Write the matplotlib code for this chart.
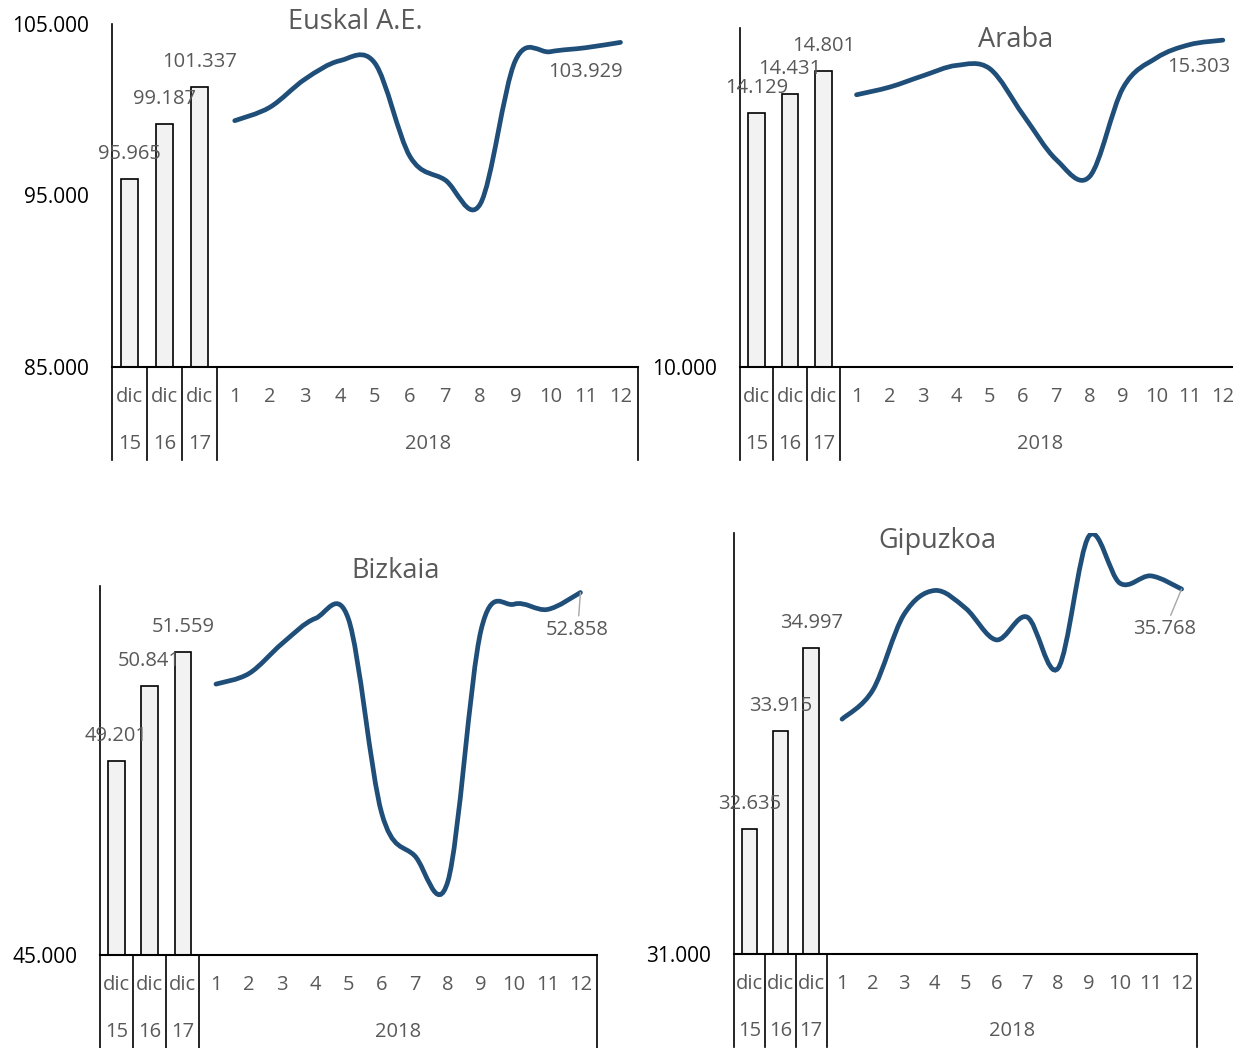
import matplotlib
matplotlib.use('Agg')
import matplotlib.pyplot as plt
import numpy as np
from matplotlib.path import Path
from matplotlib.patches import PathPatch

plt.rcParams['font.family'] = ['Open Sans', 'DejaVu Sans']

# datos
cats_top = ['dic', 'dic', 'dic'] + [str(m) for m in range(1, 13)]
cats_bottom = ['15', '16', '17']
year_label = '2018'

titles = ['Euskal A.E.', 'Araba', 'Bizkaia', 'Gipuzkoa']

euskal_bars = [95965, 99187, 101337]
euskal_line = [99362, 100143, 101780, 102861, 102706, 97263, 95904, 94500, 102850, 103385, 103615, 103929]

araba_bars = [14129, 14431, 14801]
araba_line = [14417, 14542, 14726, 14893, 14840, 14092, 13362, 13091, 14526, 15013, 15230, 15303]

bizkaia_bars = [49201, 50841, 51559]
bizkaia_line = [50873, 51104, 51755, 52297, 52280, 48080, 47150, 46600, 52043, 52606, 52491, 52858]

gipuzkoa_bars = [32635, 33915, 34997]
gipuzkoa_line = [34068, 34450, 35431, 35749, 35518, 35104, 35401, 34734, 36460, 35845, 35940, 35768]

W, H = 1233, 1048
fig = plt.figure(figsize=(W / 100, H / 100), dpi=100)

GRAY = '#595959'
BLUE = '#1F4E79'


def fmt(v):
    return f"{v:,}".replace(',', '.')


def smooth_path(x, y):
    # curva suavizada tipo Excel (Bezier por los puntos)
    pts = np.column_stack([x, y]).astype(float)
    n = len(pts)
    verts = [pts[0]]
    codes = [Path.MOVETO]
    for i in range(n - 1):
        p0 = pts[i - 1] if i > 0 else pts[i]
        p1 = pts[i]
        p2 = pts[i + 1]
        p3 = pts[i + 2] if i + 2 < n else pts[i + 1]
        verts += [p1 + (p2 - p0) / 6, p2 - (p3 - p1) / 6, p2]
        codes += [Path.CURVE4] * 3
    return Path(verts, codes)


def panel(box, title, title_xy, bars, line, ylim, yticks, end_off, leader):
    L, R, T, B = box
    h_px = B - T
    ax = fig.add_axes([L / W, 1 - B / H, (R - L) / W, h_px / H])
    xb = np.arange(3)
    xl = np.arange(3, 15)
    ax.bar(xb, bars, width=0.5, color='#F2F2F2', edgecolor='black', linewidth=1.2, zorder=2)
    ax.add_patch(PathPatch(smooth_path(xl, line), fill=False, edgecolor=BLUE,
                           linewidth=3.4, capstyle='round', zorder=3))
    ax.set_xlim(-0.5, 14.5)
    ax.set_ylim(*ylim)
    ax.set_yticks(yticks)
    ax.set_yticklabels([fmt(t) for t in yticks])
    ax.tick_params(axis='y', length=0, pad=16.5, labelsize=15, labelcolor='black')
    ax.set_xticks([])
    for s in ['top', 'right']:
        ax.spines[s].set_visible(False)
    ax.spines['left'].set_linewidth(1.2)
    ax.spines['bottom'].set_linewidth(1.5)

    # etiquetas de las barras
    for i, v in enumerate(bars):
        ax.annotate(fmt(v), (i, v), xytext=(0, 18), textcoords='offset points',
                    ha='center', va='center', fontsize=14.5, color=GRAY, zorder=4)
    # etiqueta del ultimo punto
    arrow = dict(arrowstyle='-', color='#A6A6A6', lw=1, shrinkA=1, shrinkB=0) if leader else None
    ax.annotate(fmt(line[-1]), (14, line[-1]), xytext=end_off, textcoords='offset points',
                ha='center', va='center', fontsize=14.5, color=GRAY, arrowprops=arrow, zorder=4)

    # eje de categorias en dos niveles
    tr = ax.get_xaxis_transform()
    for i, lab in enumerate(cats_top):
        ax.text(i, -30 / h_px, lab, transform=tr, ha='center', va='center',
                fontsize=14.5, color=GRAY, clip_on=False)
    for i, lab in enumerate(cats_bottom):
        ax.text(i, -77 / h_px, lab, transform=tr, ha='center', va='center',
                fontsize=14.5, color=GRAY, clip_on=False)
    ax.text(8.5, -77 / h_px, year_label, transform=tr, ha='center', va='center',
            fontsize=14.5, color=GRAY, clip_on=False)
    for xd in [-0.5, 0.5, 1.5, 2.5, 14.5]:
        ax.plot([xd, xd], [0, -93 / h_px], transform=tr, color='black', lw=1.2, clip_on=False)

    fig.text(title_xy[0] / W, 1 - title_xy[1] / H, title, ha='center', va='center',
             fontsize=19.5, color=GRAY)


panel((112, 638, 24, 367), titles[0], (355, 22), euskal_bars, euskal_line,
      (85000, 105000), [85000, 95000, 105000], (-25, -21), False)
panel((740, 1239.5, 28, 367), titles[1], (1016, 40), araba_bars, araba_line,
      (10000, 15500), [10000], (-17, -19), False)
panel((100, 597, 586, 955), titles[2], (396, 571), bizkaia_bars, bizkaia_line,
      (45000, 53000), [45000], (-2, -27), True)
panel((734, 1197, 533, 954), titles[3], (937, 541), gipuzkoa_bars, gipuzkoa_line,
      (31000, 36500), [31000], (-12, -29), True)

fig.savefig('out.png', dpi=100)
